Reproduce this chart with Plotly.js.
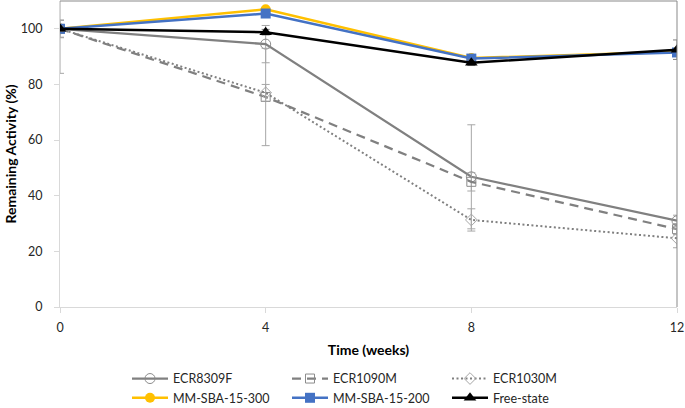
<!DOCTYPE html>
<html>
<head>
<meta charset="utf-8">
<script src="https://cdn.plot.ly/plotly-3.0.1.min.js"></script>
<style>html,body{margin:0;padding:0;background:#fff;}#chart{width:685px;height:408px;}</style>
</head>
<body>
<div id="chart"></div>
<script>
// ---- data ----
const weeks = [0, 4, 8, 12];
const seriesNames = ["ECR8309F", "ECR1090M", "ECR1030M", "MM-SBA-15-300", "MM-SBA-15-200", "Free-state"];
const ecr8309f = [100, 94.5, 46.8, 31.0];
const ecr8309fErr = [3.2, 6.7, 18.7, 2.0];
const ecr1090m = [100, 75.5, 45.0, 28.0];
const ecr1090mErr = [16.0, 17.5, 3.3, 2.0];
const ecr1030m = [100, 77.0, 31.3, 24.7];
const ecr1030mErr = [3.0, 3.0, 4.0, 3.4];
const mm300 = [100, 107.0, 89.5, 91.8];
const mm300Err = [0.5, 0.5, 0.5, 0.5];
const mm200 = [100, 105.5, 89.3, 91.5];
const mm200Err = [0.5, 0.5, 0.5, 0.5];
const freeState = [100, 98.8, 87.8, 92.5];
const freeStateErr = [1.0, 1.0, 1.0, 3.5];
const xTicks = [0, 4, 8, 12];
const yTicks = [0, 20, 40, 60, 80, 100];

const FONT = "Lato, 'Open Sans', sans-serif";
const errStyle = (arr) => ({type: 'data', array: arr, visible: true, color: '#a6a6a6', thickness: 1, width: 4});

const traces = [
  {x: weeks, y: ecr8309f, name: seriesNames[0], mode: 'lines+markers',
   line: {color: '#808080', width: 2.25},
   marker: {symbol: 'circle-open', size: 10, color: '#8c8c8c', line: {width: 1, color: '#8c8c8c'}},
   error_y: errStyle(ecr8309fErr)},
  {x: weeks, y: ecr1090m, name: seriesNames[1], mode: 'lines+markers',
   line: {color: '#808080', width: 2.25, dash: '9px,6px'},
   marker: {symbol: 'square-open', size: 9, color: '#8c8c8c', line: {width: 1, color: '#8c8c8c'}},
   error_y: errStyle(ecr1090mErr)},
  {x: weeks, y: ecr1030m, name: seriesNames[2], mode: 'lines+markers',
   line: {color: '#808080', width: 2, dash: '2px,2.5px'},
   marker: {symbol: 'diamond-open', size: 9, color: '#a6a6a6', line: {width: 1, color: '#a6a6a6'}},
   error_y: errStyle(ecr1030mErr)},
  {x: weeks, y: mm300, name: seriesNames[3], mode: 'lines+markers',
   line: {color: '#FFC000', width: 2.5},
   marker: {symbol: 'circle', size: 10, color: '#FFC000'},
   error_y: {type: 'data', array: mm300Err, visible: true, color: '#FFC000', thickness: 1, width: 4}},
  {x: weeks, y: mm200, name: seriesNames[4], mode: 'lines+markers',
   line: {color: '#4472C4', width: 2.5},
   marker: {symbol: 'square', size: 10, color: '#4472C4'},
   error_y: {type: 'data', array: mm200Err, visible: true, color: '#4472C4', thickness: 1, width: 4}},
  {x: weeks, y: freeState, name: seriesNames[5], mode: 'lines+markers',
   line: {color: '#000000', width: 2.5},
   marker: {symbol: 'triangle-up', size: 11, color: '#000000'},
   error_y: {type: 'data', array: freeStateErr, visible: true, color: '#7f7f7f', thickness: 1, width: 4}}
];

const layout = {
  width: 685, height: 408,
  margin: {l: 60, r: 8, t: 1, b: 101, autoexpand: false},
  paper_bgcolor: '#ffffff', plot_bgcolor: '#ffffff',
  font: {family: FONT, size: 12, color: '#404040'},
  showlegend: true,
  xaxis: {
    range: [0, 12], tickvals: xTicks, ticktext: xTicks.map(String),
    showgrid: false, zeroline: false, showline: true, linecolor: '#d9d9d9', linewidth: 1,
    ticks: 'outside', ticklen: 5, tickcolor: '#d9d9d9', tickwidth: 1,
    ticklabelstandoff: 4,
    tickfont: {family: FONT, size: 12.5, color: '#262626'},
    title: {text: 'Time (weeks)', standoff: 11, font: {family: FONT, size: 14, color: '#000000', weight: 'bold'}},
    fixedrange: true
  },
  xaxis2: {
    overlaying: 'x', range: [0, 12], tickvals: xTicks, showticklabels: false,
    showgrid: false, zeroline: false, showline: false,
    ticks: 'inside', ticklen: 5, tickcolor: '#d9d9d9', tickwidth: 1, fixedrange: true
  },
  yaxis: {
    range: [0, 110], tickvals: yTicks, ticktext: yTicks.map(String),
    showgrid: false, zeroline: false, showline: true, linecolor: '#d9d9d9', linewidth: 1,
    ticks: 'outside', ticklen: 5, tickcolor: '#d9d9d9', tickwidth: 1,
    ticklabelstandoff: 9,
    tickfont: {family: FONT, size: 12.5, color: '#262626'},
    title: {text: 'Remaining Activity (%)', standoff: 0, font: {family: FONT, size: 14, color: '#000000', weight: 'bold'}},
    fixedrange: true
  },
  yaxis2: {
    overlaying: 'y', range: [0, 110], tickvals: yTicks, showticklabels: false,
    showgrid: false, zeroline: false, showline: false,
    ticks: 'inside', ticklen: 5, tickcolor: '#d9d9d9', tickwidth: 1, fixedrange: true
  },
  shapes: [
    {type: 'line', xref: 'paper', yref: 'paper', x0: 0, x1: 1, y0: 1, y1: 1, line: {color: '#898989', width: 1}},
    {type: 'line', xref: 'paper', yref: 'paper', x0: 1, x1: 1, y0: 0, y1: 1, line: {color: '#898989', width: 1}}
  ],
  legend: {
    orientation: 'h', x: 0.1086, xanchor: 'left', y: -0.186, yanchor: 'top',
    entrywidth: 109, entrywidthmode: 'pixels', itemwidth: 36,
    font: {family: FONT, size: 12.5, color: '#262626'},
    bgcolor: 'rgba(0,0,0,0)', borderwidth: 0, tracegroupgap: 0
  }
};

Plotly.newPlot('chart', traces, layout, {staticPlot: true, displayModeBar: false});
</script>
</body>
</html>
